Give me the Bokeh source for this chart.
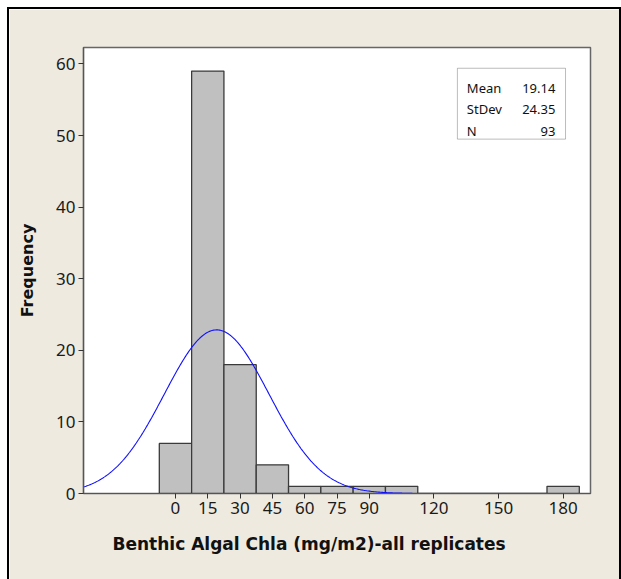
import numpy as np
from bokeh.plotting import figure
from bokeh.models import Range1d, FixedTicker, BoxAnnotation, Label, Title
from bokeh.embed import file_html
from bokeh.resources import INLINE

# Histogram of benthic algal chlorophyll-a (all replicates)
bin_centers = [0, 15, 30, 45, 60, 75, 90, 105, 120, 135, 150, 165, 180]
counts = [7, 59, 18, 4, 1, 1, 1, 1, 0, 0, 0, 0, 1]
bin_width = 15

x_ticks = [0, 15, 30, 45, 60, 75, 90, 120, 150, 180]
y_ticks = [0, 10, 20, 30, 40, 50, 60]

# Summary statistics for the fitted normal curve
mean = 19.14
stdev = 24.35
n = 93
curve_start, curve_end = -42.7, 110.0

BG = "#EEEAE0"
FONT = "Noto Sans"
BOLD_FONT = "DejaVu Sans"

p = figure(
    width=610, height=570,
    x_range=Range1d(-42.7, 192.7), y_range=Range1d(0, 62.3),
    output_backend="svg", toolbar_location=None,
    min_border_left=74, min_border_right=29,
    min_border_top=38, min_border_bottom=86,
    background_fill_color="white", border_fill_color=BG,
)
p.margin = (9, 0, 0, 9)
p.styles = {"outline": "2px solid black"}
p.outline_line_color = "#666666"
p.outline_line_width = 1.5
p.grid.visible = False

left = [c - bin_width / 2 for c in bin_centers]
right = [c + bin_width / 2 for c in bin_centers]
p.quad(left=left, right=right, bottom=0, top=counts,
       fill_color="#C0C0C0", line_color="#3a3a3a", line_width=1.3)

xs = np.linspace(curve_start, curve_end, 400)
ys = n * bin_width / (stdev * np.sqrt(2 * np.pi)) * np.exp(-0.5 * ((xs - mean) / stdev) ** 2)
p.line(xs, ys, line_color="#1010FF", line_width=1.1)

for ax in (p.xaxis, p.yaxis):
    ax.axis_line_color = "#555555"
    ax.axis_line_width = 1.2
    ax.major_tick_line_color = "#333333"
    ax.major_tick_out = 5
    ax.major_tick_in = 0
    ax.minor_tick_line_color = None
    ax.major_label_text_font = FONT
    ax.major_label_text_font_size = "17px"
    ax.major_label_text_color = "#1a1a1a"
    ax.major_label_standoff = 3

p.xaxis.ticker = FixedTicker(ticks=x_ticks)
p.yaxis.ticker = FixedTicker(ticks=y_ticks)

p.yaxis.axis_label = "Frequency"
p.yaxis.axis_label_text_font = BOLD_FONT
p.yaxis.axis_label_text_font_style = "bold"
p.yaxis.axis_label_text_font_size = "16px"
p.yaxis.axis_label_text_color = "#111111"
p.yaxis.axis_label_standoff = 16

# Horizontal axis title, set slightly left of the frame centre
p.add_layout(Title(
    text="Benthic Algal Chla (mg/m2)-all replicates",
    text_font=BOLD_FONT, text_font_style="bold", text_font_size="17px",
    text_color="#111111", align="left", offset=29, standoff=31,
), "below")

# Statistics box
p.add_layout(BoxAnnotation(left=130.9, right=181.1, bottom=49.5, top=59.4,
                           fill_color="white", fill_alpha=1.0,
                           line_color="#222222", line_width=1))
stat_names = ["Mean", "StDev", "N"]
stat_values = [f"{mean:.2f}", f"{stdev:.2f}", f"{n}"]
stat_y = [56.6, 53.7, 50.6]
for name, val, yy in zip(stat_names, stat_values, stat_y):
    p.add_layout(Label(x=135.3, y=yy, text=name, text_font=FONT,
                       text_font_size="13px", text_color="#111111",
                       text_baseline="alphabetic"))
    p.add_layout(Label(x=176.4, y=yy, text=val, text_font=FONT,
                       text_font_size="13px", text_color="#111111",
                       text_align="right", text_baseline="alphabetic"))

open("out.html", "w").write(file_html(p, INLINE))
